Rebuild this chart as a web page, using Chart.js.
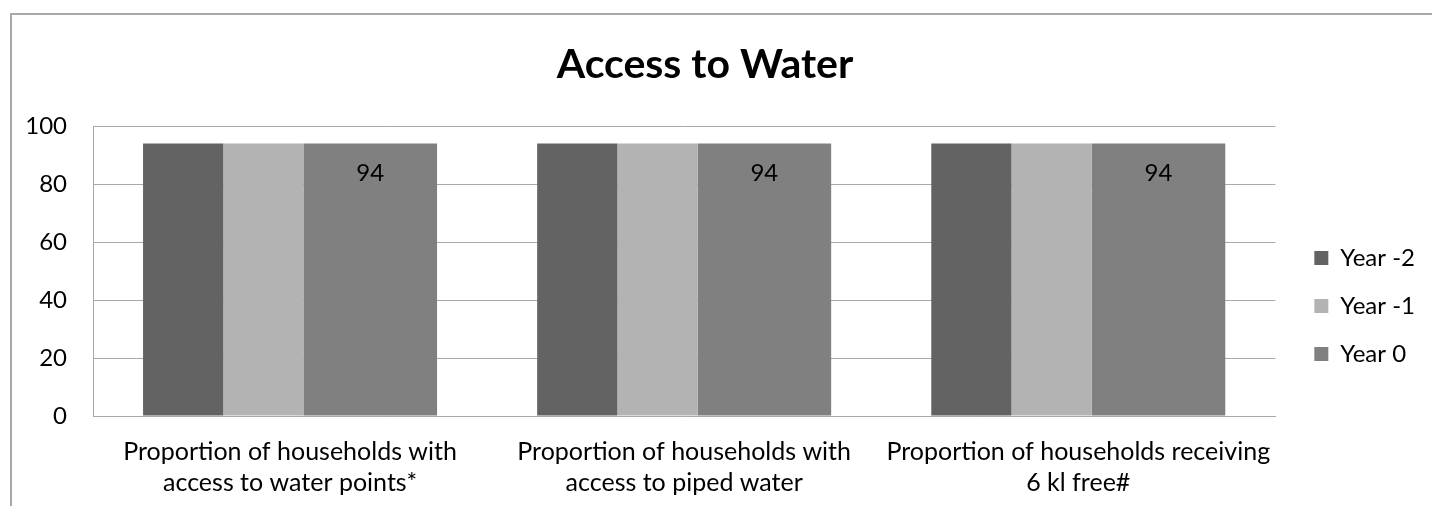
<!DOCTYPE html>
<html>
<head>
<meta charset="utf-8">
<title>Access to Water</title>
<script src="https://cdn.jsdelivr.net/npm/chart.js@4/dist/chart.umd.min.js"></script>
<style>
  html, body { margin: 0; padding: 0; background: #ffffff; }
  #wrap { position: relative; width: 1432px; height: 506px; overflow: hidden; }
  #frame { position: absolute; left: 10px; top: 13px; width: 1460px; height: 540px;
           border: 2px solid #a9a9a9; box-sizing: border-box; }
  #chart { position: absolute; left: 0; top: 0; }
</style>
</head>
<body>
<div id="wrap">
  <div id="frame"></div>
  <canvas id="chart" width="1432" height="506"></canvas>
</div>
<script>
// ---- data ----
const categories = [
  ['Proportion of households with', 'access to water points*'],
  ['Proportion of households with', 'access to piped water'],
  ['Proportion of households receiving', '6 kl free#']
];
const seriesNames = ['Year -2', 'Year -1', 'Year 0'];
const yearMinus2 = [94, 94, 94];
const yearMinus1 = [94, 94, 94];
const year0 = [94, 94, 94];
const yTicks = [0, 20, 40, 60, 80, 100];

// ---- styling ----
const FONT = 'Lato, "Open Sans", "DejaVu Sans", sans-serif';
const seriesColors = ['#636363', '#b3b3b3', '#808080'];
const barWeights = [3, 3, 5];      // relative bar widths inside a group
const groupFill = 0.746;           // share of a category taken by its group
const valueLabelled = [false, false, true];
const gridColor = '#a9a9a9';

// Lay the bars of one group side by side, each as wide as its weight.
// Bars left of the category centre share the first slot, the rest the
// second; per-dataset category/bar percentages then place each bar.
const weightSum = barWeights.reduce((a, b) => a + b, 0);
let edge = -groupFill / 2;
const barGeometry = barWeights.map(w => {
  const width = w / weightSum * groupFill;
  const centre = edge + width / 2;
  edge += width;
  const cp = 4 * Math.abs(centre);
  return { stack: centre < 0 ? 'left' : 'right', categoryPercentage: cp, barPercentage: 2 * width / cp };
});

const seriesValues = [yearMinus2, yearMinus1, year0];
const datasets = seriesNames.map((name, i) => ({
  label: name,
  data: seriesValues[i],
  backgroundColor: seriesColors[i],
  borderWidth: 0,
  stack: barGeometry[i].stack,
  categoryPercentage: barGeometry[i].categoryPercentage,
  barPercentage: barGeometry[i].barPercentage,
  showValue: valueLabelled[i]
}));

// Value labels written inside the top of the bars that carry them.
const valueLabels = {
  id: 'valueLabels',
  afterDatasetsDraw(chart, args, opts) {
    const ctx = chart.ctx;
    chart.data.datasets.forEach((ds, i) => {
      if (!ds.showValue) return;
      const meta = chart.getDatasetMeta(i);
      meta.data.forEach((bar, j) => {
        ctx.save();
        ctx.font = opts.font;
        ctx.fillStyle = opts.color;
        ctx.textAlign = 'center';
        ctx.textBaseline = 'alphabetic';
        ctx.fillText(String(ds.data[j]), bar.x, bar.y + opts.offset);
        ctx.restore();
      });
    });
  }
};

// Centre the title over the framed area and start the legend column
// just below the title line, so its entries sit beside the plot.
const frameLayout = {
  id: 'frameLayout',
  afterLayout(chart, args, opts) {
    const t = chart.titleBlock;
    if (t) t.right = chart.width - opts.titleRightInset;
    const l = chart.legend;
    if (l) { l.top = opts.legendTop; l.height = l.bottom - l.top; }
  }
};

new Chart(document.getElementById('chart'), {
  type: 'bar',
  data: { labels: categories, datasets },
  plugins: [valueLabels, frameLayout],
  options: {
    responsive: false,
    animation: false,
    devicePixelRatio: 1,
    layout: { padding: { left: 12, top: 0, right: 7, bottom: 0 } },
    plugins: {
      title: {
        display: true,
        text: 'Access to Water',
        color: '#000000',
        font: { family: FONT, size: 41, weight: 'bold', lineHeight: 1.2 },
        padding: { top: 40, bottom: 36.8 }
      },
      legend: {
        position: 'right',
        labels: {
          color: '#000000',
          font: { family: FONT, size: 24 },
          boxWidth: 14,
          boxHeight: 14,
          padding: 24
        }
      },
      tooltip: { enabled: false },
      valueLabels: { font: '24px ' + FONT, color: '#000000', offset: 38 },
      frameLayout: { titleRightInset: 34, legendTop: 106 }
    },
    scales: {
      x: {
        grid: { display: false },
        border: { display: true, color: gridColor, width: 1 },
        ticks: {
          color: '#000000',
          font: { family: FONT, size: 25, lineHeight: 1.24 },
          padding: 12,
          maxRotation: 0,
          autoSkip: false
        },
        afterFit: s => { s.height = 90; }
      },
      y: {
        min: yTicks[0],
        max: yTicks[yTicks.length - 1],
        stacked: false,
        grid: { color: gridColor, lineWidth: 1, drawTicks: false },
        border: { display: true, color: gridColor, width: 1 },
        ticks: {
          stepSize: yTicks[1] - yTicks[0],
          color: '#000000',
          font: { family: FONT, size: 24 },
          padding: 26
        },
        afterFit: s => { s.width = 81; }
      },
      gap: {
        type: 'linear',
        position: 'right',
        display: true,
        grid: { display: false },
        border: { display: false },
        ticks: { display: false },
        afterFit: s => { s.width = 15; }
      }
    }
  }
});
</script>
</body>
</html>
